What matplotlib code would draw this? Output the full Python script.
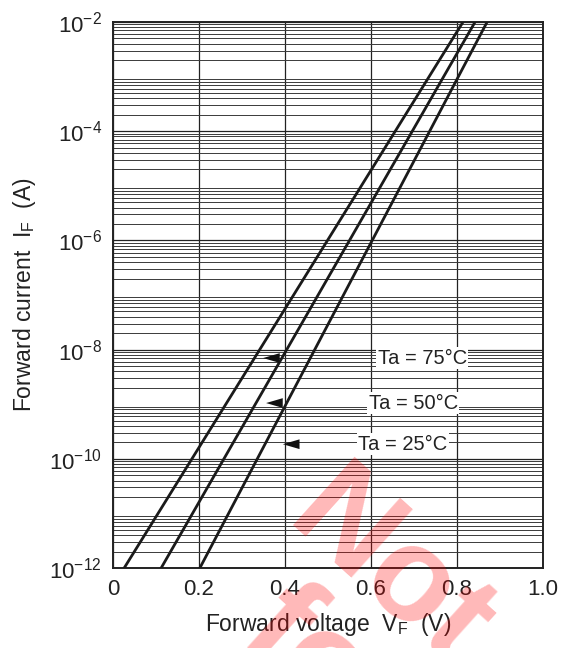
import matplotlib
matplotlib.use("Agg")
import matplotlib.pyplot as plt
import numpy as np
from matplotlib.ticker import FixedLocator, NullFormatter

plt.rcParams['font.family'] = ['Liberation Sans', 'DejaVu Sans']
plt.rcParams['mathtext.fontset'] = 'custom'
plt.rcParams['mathtext.rm'] = 'Liberation Sans'
plt.rcParams['mathtext.it'] = 'Liberation Sans'

# Data: forward voltage at the two ends of each line
temps = ["Ta = 75°C", "Ta = 50°C", "Ta = 25°C"]
if_ends = [1e-12, 1e-2]
vf_75 = [0.026, 0.814]
vf_50 = [0.112, 0.842]
vf_25 = [0.202, 0.870]
# label arrows: tip position, label centre
arrow_tip_v = [0.349, 0.356, 0.395]
arrow_tip_i = [7.0e-9, 1.05e-9, 1.85e-10]
label_v = [0.719, 0.698, 0.674]

x_ticks = [0, 0.2, 0.4, 0.6, 0.8, 1.0]
x_ticklabels = ["0", "0.2", "0.4", "0.6", "0.8", "1.0"]
y_ticks = [1e-12, 1e-10, 1e-8, 1e-6, 1e-4, 1e-2]
y_ticklabels = [r"$10^{-12}$", r"$10^{-10}$", r"$10^{-8}$", r"$10^{-6}$", r"$10^{-4}$", r"$10^{-2}$"]
decades = list(range(-12, -2))
minor_mult = [1, 2, 3, 4, 5, 6, 7, 8, 9]

fig = plt.figure(figsize=(5.63, 6.48), dpi=100)
ax = fig.add_axes([113/563, 80/648, 430/563, 546/648])
ax.set_yscale('log')
ax.set_xlim(0, 1.0)
ax.set_ylim(1e-12, 1e-2)

minor_vals = [m * 10.0**d for d in decades for m in minor_mult if m != 1]
ax.yaxis.set_minor_locator(FixedLocator(minor_vals))
ax.yaxis.set_minor_formatter(NullFormatter())
ax.set_yticks(y_ticks)
ax.set_yticklabels(y_ticklabels)
ax.set_xticks(x_ticks)
ax.set_xticklabels(x_ticklabels)
ax.grid(True, which='major', axis='both', color='#222222', lw=0.9, zorder=1)
ax.grid(True, which='minor', axis='y', color='#3a3a3a', lw=0.7, zorder=1)
ax.tick_params(which='both', length=0, labelsize=16, pad=8, colors='#222222')
for s in ax.spines.values():
    s.set_linewidth(1.4)
    s.set_color('#222222')

for vf in (vf_75, vf_50, vf_25):
    ax.plot(vf, if_ends, color='#1a1a1a', lw=2.0, zorder=3)

for t, tv, ti, lv in zip(temps, arrow_tip_v, arrow_tip_i, label_v):
    ax.annotate('', xy=(tv, ti), xytext=(tv + 0.046, ti),
                arrowprops=dict(arrowstyle='-|>,head_length=1.2,head_width=0.35',
                                color='#111111', lw=0, shrinkA=0, shrinkB=0), zorder=4)
    ax.text(lv, ti, t, fontsize=14.5, ha='center', va='center', color='#222222',
            bbox=dict(facecolor='white', edgecolor='none', pad=1.0), zorder=5)

ax.set_xlabel(r"Forward voltage  V$_\mathrm{F}$  (V)", fontsize=16.5, color='#222222', labelpad=8)
ax.set_ylabel(r"Forward current  I$_\mathrm{F}$  (A)", fontsize=16.5, color='#222222', labelpad=8)

# watermark
W = 563.0
H = 648.0
fig.text(283/W, 1 - 524/H, "Not", fontsize=96, fontweight='bold', color='red',
         alpha=0.28, rotation=-42, ha='left', va='baseline', rotation_mode='anchor', zorder=10)
fig.text(236/W, 1 - 640/H, "for", fontsize=96, fontweight='bold', color='red',
         alpha=0.28, rotation=-42, ha='left', va='baseline', rotation_mode='anchor', zorder=10)

fig.savefig("out.png", dpi=100)
